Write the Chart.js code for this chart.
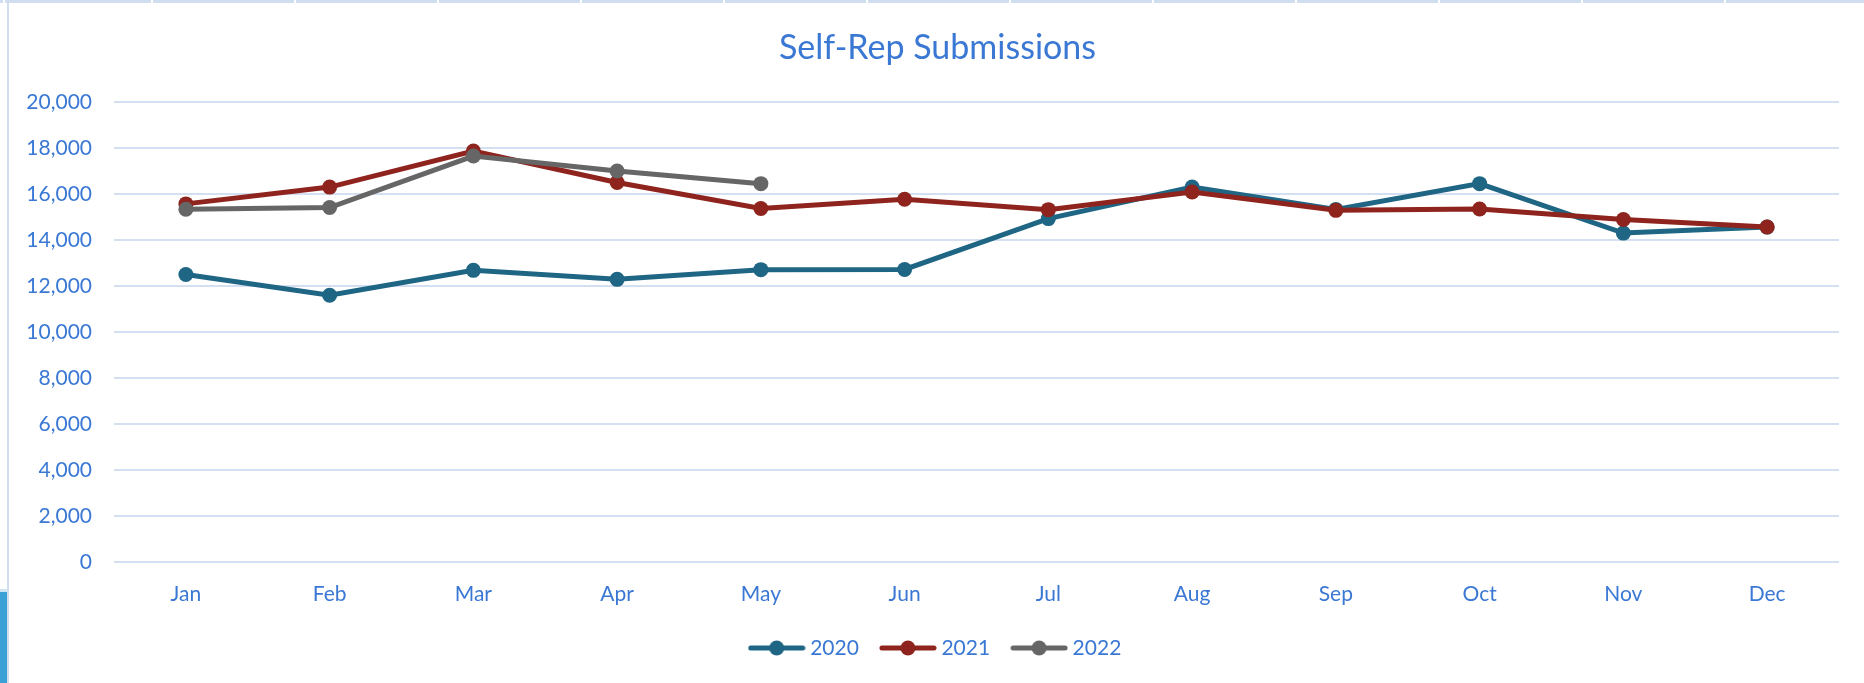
<!DOCTYPE html>
<html>
<head>
<meta charset="utf-8">
<script src="https://cdn.jsdelivr.net/npm/chart.js@4.4.1/dist/chart.umd.min.js"></script>
<style>
    html, body { margin: 0; padding: 0; background: #fff; }
    #wrap { position: relative; width: 1864px; height: 683px; overflow: hidden; }
    #chart { position: absolute; left: 0; top: 0; }
    #topBand {
        position: absolute; left: 0; top: 0; width: 1864px; height: 3px;
        background: repeating-linear-gradient(90deg, #d0def0 0px, #d0def0 141px, #ffffff 141px, #ffffff 143px);
        background-position: 10px 0;
    }
    #leftLine { position: absolute; left: 7px; top: 0; width: 2px; height: 683px; background: #d0def0; }
    #blueBar { position: absolute; left: 0; top: 592px; width: 7px; height: 91px; background: #3ba0d4; }
    #blueBarTop { position: absolute; left: 0; top: 589px; width: 7px; height: 3px; background: #cfe6f2; }
</style>
</head>
<body>
<div id="wrap">
    <canvas id="chart" width="1864" height="683"></canvas>
    <div id="topBand"></div>
    <div id="leftLine"></div>
    <div id="blueBarTop"></div>
    <div id="blueBar"></div>
</div>
<script>
    // Datos
    const meses = ['Jan', 'Feb', 'Mar', 'Apr', 'May', 'Jun', 'Jul', 'Aug', 'Sep', 'Oct', 'Nov', 'Dec'];
    const anios = ['2020', '2021', '2022'];
    const datos2020 = [12500, 11600, 12680, 12290, 12710, 12720, 14930, 16300, 15330, 16450, 14300, 14560];
    const datos2021 = [15570, 16300, 17870, 16500, 15370, 15770, 15320, 16090, 15290, 15350, 14890, 14565];
    const datos2022 = [15340, 15410, 17650, 17000, 16450];
    const yTicks = [0, 2000, 4000, 6000, 8000, 10000, 12000, 14000, 16000, 18000, 20000];

    const colores = {
        y2020: '#1f6584',
        y2021: '#8e241d',
        y2022: '#666666',
        texto: '#3a78d4',
        grid: '#d4e0f2'
    };
    const fuente = "Lato, 'Open Sans', sans-serif";

    // Icono de leyenda: línea con punto en el centro
    function iconoLeyenda(color) {
        const c = document.createElement('canvas');
        c.width = 58;
        c.height = 18;
        const g = c.getContext('2d');
        g.strokeStyle = color;
        g.lineWidth = 5;
        g.lineCap = 'round';
        g.beginPath();
        g.moveTo(3, 9);
        g.lineTo(55, 9);
        g.stroke();
        g.fillStyle = color;
        g.beginPath();
        g.arc(29, 9, 7.5, 0, Math.PI * 2);
        g.fill();
        return c;
    }

    const series = [datos2020, datos2021, datos2022];
    const colSeries = [colores.y2020, colores.y2021, colores.y2022];

    const datasets = series.map((d, i) => ({
        label: anios[i],
        data: d,
        borderColor: colSeries[i],
        backgroundColor: colSeries[i],
        borderWidth: 5,
        pointRadius: 7.5,
        pointBorderWidth: 0,
        pointBackgroundColor: colSeries[i],
        pointHoverRadius: 7.5,
        tension: 0,
        order: 2 - i   // 2022 encima
    }));

    new Chart(document.getElementById('chart').getContext('2d'), {
        type: 'line',
        data: { labels: meses, datasets: datasets },
        options: {
            responsive: false,
            animation: false,
            layout: { padding: { top: 0, left: 36, right: 25, bottom: 14.5 } },
            plugins: {
                title: {
                    display: true,
                    text: 'Self-Rep Submissions',
                    color: colores.texto,
                    font: { family: fuente, size: 34, weight: 'normal' },
                    padding: { top: 27.6, bottom: 33.6 }
                },
                legend: {
                    position: 'bottom',
                    labels: {
                        color: colores.texto,
                        font: { family: fuente, size: 21 },
                        usePointStyle: true,
                        pointStyleWidth: 46,
                        padding: 26,
                        generateLabels: function() {
                            return anios.map((a, i) => ({
                                text: a,
                                fontColor: colores.texto,
                                pointStyle: iconoLeyenda(colSeries[i]),
                                fillStyle: colSeries[i],
                                strokeStyle: colSeries[i],
                                lineWidth: 0,
                                hidden: false,
                                datasetIndex: i
                            }));
                        }
                    }
                },
                tooltip: { enabled: false }
            },
            scales: {
                x: {
                    offset: true,
                    grid: { display: false, drawTicks: false },
                    border: { display: false },
                    ticks: {
                        color: colores.texto,
                        font: { family: fuente, size: 21 },
                        padding: 20,
                        maxRotation: 0,
                        autoSkip: false
                    },
                    afterFit: function(scale) { scale.height = 49.5; }
                },
                y: {
                    min: 0,
                    max: 20000,
                    afterBuildTicks: function(scale) {
                        scale.ticks = yTicks.map(v => ({ value: v }));
                    },
                    grid: { color: colores.grid, lineWidth: 2, drawTicks: false },
                    border: { display: false },
                    ticks: {
                        color: colores.texto,
                        font: { family: fuente, size: 21 },
                        padding: 22,
                        callback: function(v) { return Number(v).toLocaleString('en-US'); }
                    },
                    afterFit: function(scale) {
                        scale.width = 78;
                        // las etiquetas sobresalen a la izquierda del eje: no recortarlas
                        scale._computeLabelArea = function() { return undefined; };
                    }
                }
            }
        }
    });
</script>
</body>
</html>
